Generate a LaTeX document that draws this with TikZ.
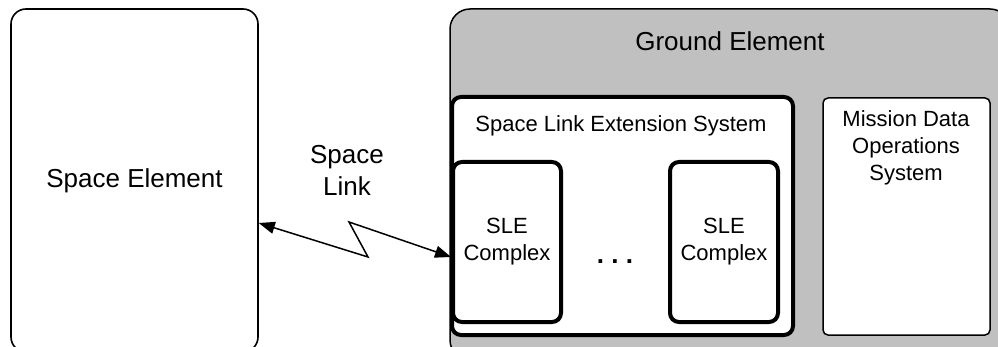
\documentclass[tikz,border=0pt]{standalone}
\usepackage{fontspec}
\setmainfont{Liberation Sans}
\usetikzlibrary{arrows.meta}
\definecolor{groundgray}{RGB}{192,192,192}

\begin{document}
\begin{tikzpicture}[x=1pt, y=-1pt,
        every node/.style={inner sep=0pt, align=center},
        element/.style={draw, line width=1.6pt, rounded corners=15pt},
        system/.style={draw, line width=4pt, fill=white, rounded corners=9pt},
        bigtext/.style={font=\fontsize{26}{32}\selectfont},
        smalltext/.style={font=\fontsize{22}{27}\selectfont},
        link/.style={line width=1.5pt, {Triangle[length=16pt,width=12pt]}-{Triangle[length=16pt,width=12pt]}}
    ]
        \useasboundingbox (0,0) rectangle (998,347);
        \clip (0,0) rectangle (998,347);

        % Space element
        \node [element, minimum width=247pt, minimum height=343pt, bigtext] (space) at (134.5,180.5) {Space Element};

        % Ground element
        \node [element, fill=groundgray, rounded corners=20pt, line width=1.5pt, minimum width=560pt, minimum height=351pt] (ground) at (730,184.5) {};
        \node [bigtext] (groundtitle) at (730,41) {Ground Element};

        % SLE system with its complexes
        \node [system, minimum width=341pt, minimum height=238pt] (sles) at (622.5,216) {};
        \node [smalltext] (slestitle) at (621,126) {Space Link Extension System};
        \node [system, minimum width=108pt, minimum height=160pt, smalltext] (cplx1) at (507,242) {SLE\\Complex};
        \node [system, minimum width=108pt, minimum height=160pt, smalltext] (cplx2) at (724,242) {SLE\\Complex};
        \node [font=\fontsize{26}{32}\selectfont\bfseries] (dots) at (615,262) {.\ .\ .};

        % Mission data operations system
        \node [draw, fill=white, line width=1.5pt, rounded corners=5pt, minimum width=167pt, minimum height=237pt] (mdos) at (906.5,216.5) {};
        \node [smalltext] (mdostitle) at (906,148) {Mission Data\\Operations\\System};

        % Space link
        \node [bigtext] (linktitle) at (347,170) {Space\\Link};
        \coordinate (zigA) at (368,257);
        \coordinate (zigB) at (349,222);
        \draw [link] (space.east |- 0,223) -- (zigA) -- (zigB) -- (cplx1.west |- 0,257);
    \end{tikzpicture}
\end{document}
